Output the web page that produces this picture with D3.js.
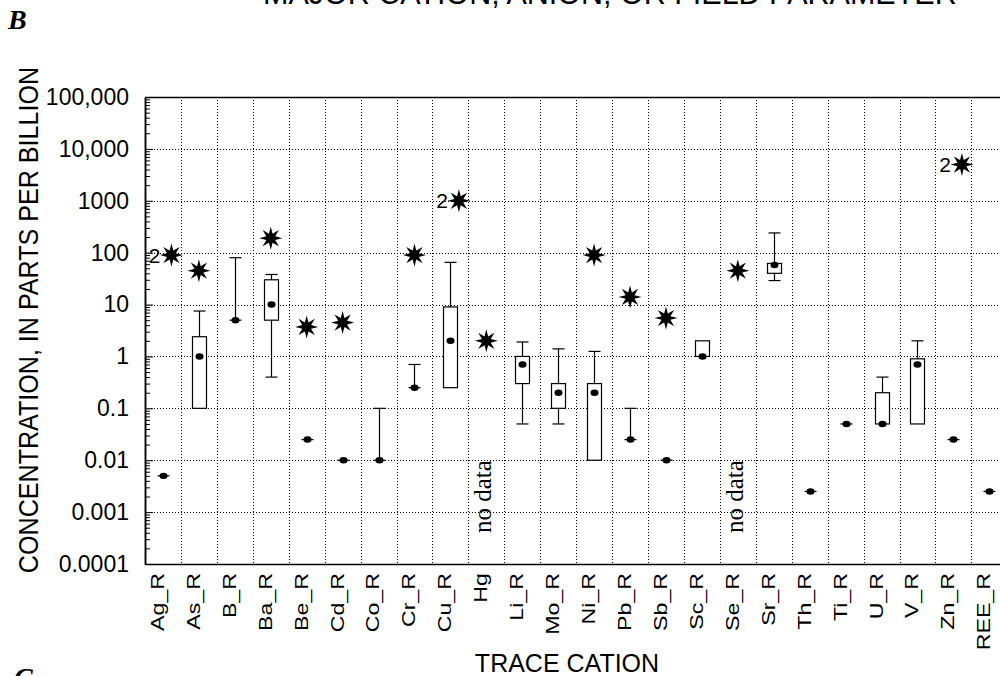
<!DOCTYPE html>
<html>
<head>
<meta charset="utf-8">
<script src="https://cdn.jsdelivr.net/npm/d3@7"></script>
<style>
  body { margin: 0; background: #fff; }
  svg { display: block; }
</style>
</head>
<body>
<svg id="chart" width="1000" height="676"></svg>
<script>
// Trace cation concentrations (parts per billion), one entry per constituent.
const categories = ["Ag_R","As_R","B_R","Ba_R","Be_R","Cd_R","Co_R","Cr_R","Cu_R","Hg","Li_R","Mo_R",
                    "Ni_R","Pb_R","Sb_R","Sc_R","Se_R","Sr_R","Th_R","Ti_R","U_R","V_R","Zn_R","REE_R"];
const medians     = [0.005, 1, 5, 10, 0.025, 0.01, 0.01, 0.25, 2, null, 0.7, 0.2,
                     0.2, 0.025, 0.01, 1, null, 58, 0.0025, 0.05, 0.05, 0.7, 0.025, 0.0025];
const boxLow      = [0.005, 0.1, 5, 5, 0.025, 0.01, 0.01, 0.25, 0.25, null, 0.3, 0.1,
                     0.01, 0.025, 0.01, 1, null, 40, 0.0025, 0.05, 0.05, 0.05, 0.025, 0.0025];
const boxHigh     = [0.005, 2.4, 5, 30, 0.025, 0.01, 0.01, 0.25, 9, null, 1, 0.3,
                     0.3, 0.025, 0.01, 2, null, 62, 0.0025, 0.05, 0.2, 0.9, 0.025, 0.0025];
const whiskerLow  = [null, null, null, 0.4, null, null, null, null, null, null, 0.05, 0.05,
                     null, null, null, null, null, 29, null, null, null, null, null, null];
const whiskerHigh = [null, 7.5, 80, 38, null, null, 0.1, 0.7, 65, null, 1.9, 1.4,
                     1.25, 0.1, null, null, null, 240, null, null, 0.4, 2, null, null];
const outliers    = [90, 45, null, 190, 3.7, 4.5, null, 90, 1000, 2, null, null,
                     90, 14, 5.5, null, 45, null, null, null, null, null, 5000, null];
const outlierCounts = [2, 1, 0, 1, 1, 1, 0, 1, 2, 1, 0, 0,
                       1, 1, 1, 0, 1, 0, 0, 0, 0, 0, 2, 0];
const noDataCategories = ["Hg", "Se_R"];

const yTickValues = [1e5, 1e4, 1e3, 100, 10, 1, 0.1, 0.01, 0.001, 0.0001];
const yTickLabels = ["100,000", "10,000", "1000", "100", "10", "1", "0.1", "0.01", "0.001", "0.0001"];

const SANS = "'Liberation Sans', Arial, Helvetica, sans-serif";
const SERIF = "'Liberation Serif', 'Times New Roman', serif";

const rows = categories.map((c, i) => ({
  cat: c, med: medians[i], lo: boxLow[i], hi: boxHigh[i],
  wlo: whiskerLow[i], whi: whiskerHigh[i], out: outliers[i], n: outlierCounts[i]
}));

const svg = d3.select("#chart");
const plot = { left: 145, right: 1007.3, top: 97, bottom: 564 };

const x = d3.scaleBand().domain(categories).range([plot.left, plot.right]).padding(0);
const y = d3.scaleLog().domain([1e-4, 1e5]).range([plot.bottom, plot.top]);
const cx = c => x(c) + x.bandwidth() / 2;

// Dotted grid
const grid = svg.append("g").attr("stroke", "#000").attr("stroke-width", 1)
  .attr("stroke-dasharray", "1,2");
grid.selectAll("line.h").data(yTickValues.filter(v => v > 1e-4 && v < 1e5)).join("line")
  .attr("x1", plot.left).attr("x2", plot.right)
  .attr("y1", d => Math.round(y(d)) + 0.5).attr("y2", d => Math.round(y(d)) + 0.5);
grid.selectAll("line.v").data(categories.slice(1)).join("line")
  .attr("x1", d => Math.round(x(d)) + 0.5).attr("x2", d => Math.round(x(d)) + 0.5)
  .attr("y1", plot.top).attr("y2", plot.bottom);

// Top frame line
svg.append("line").attr("x1", plot.left).attr("x2", plot.right)
  .attr("y1", plot.top + 0.5).attr("y2", plot.top + 0.5)
  .attr("stroke", "#000").attr("stroke-width", 1.5);

// Left axis: minor log ticks, then major ticks with labels
const minorTicks = [];
for (let e = -4; e < 5; e++) for (let m = 2; m <= 9; m++) minorTicks.push(m * Math.pow(10, e));
svg.append("g").attr("transform", `translate(${plot.left},0)`)
  .call(d3.axisLeft(y).tickValues(minorTicks).tickSize(-5).tickSizeOuter(0).tickFormat(""))
  .call(g => g.select(".domain").attr("stroke-width", 1.5));
const yAxis = svg.append("g").attr("transform", `translate(${plot.left},0)`)
  .call(d3.axisLeft(y).tickValues(yTickValues).tickSize(-8).tickSizeOuter(0).tickPadding(16)
    .tickFormat((d, i) => yTickLabels[i]));
yAxis.select(".domain").attr("stroke-width", 1.5);
yAxis.selectAll("text").attr("font-size", 23).style("font-family", SANS).attr("fill", "#000");

// Bottom axis with vertical category labels
const xAxis = svg.append("g").attr("transform", `translate(0,${plot.bottom})`)
  .call(d3.axisBottom(x).tickSize(0).tickSizeOuter(0));
xAxis.select(".domain").attr("stroke-width", 1.5);
xAxis.selectAll("text")
  .attr("font-size", 19).style("font-family", SANS).attr("fill", "#000")
  .attr("text-anchor", "end").attr("x", 0).attr("y", 0).attr("dy", "0.05em")
  .attr("transform", "translate(0,9) rotate(-90) scale(1.22,1)");

// Whiskers
const wk = svg.append("g").attr("stroke", "#000").attr("stroke-width", 1.2);
const capW = 12;
rows.forEach(r => {
  const px = Math.round(cx(r.cat)) + 0.5;
  if (r.whi != null) {
    wk.append("line").attr("x1", px).attr("x2", px).attr("y1", y(r.hi)).attr("y2", y(r.whi));
    wk.append("line").attr("x1", px - capW / 2).attr("x2", px + capW / 2).attr("y1", y(r.whi)).attr("y2", y(r.whi));
  }
  if (r.wlo != null) {
    wk.append("line").attr("x1", px).attr("x2", px).attr("y1", y(r.lo)).attr("y2", y(r.wlo));
    wk.append("line").attr("x1", px - capW / 2).attr("x2", px + capW / 2).attr("y1", y(r.wlo)).attr("y2", y(r.wlo));
  }
});

// Boxes (degenerate ones collapse to a short bar)
const boxW = 14;
const boxes = svg.append("g");
rows.filter(r => r.lo != null).forEach(r => {
  const px = Math.round(cx(r.cat)) + 0.5;
  if (r.hi > r.lo) {
    boxes.append("rect").attr("x", px - boxW / 2).attr("width", boxW)
      .attr("y", y(r.hi)).attr("height", y(r.lo) - y(r.hi))
      .attr("fill", "#fff").attr("stroke", "#000").attr("stroke-width", 1.2);
  } else {
    boxes.append("line").attr("x1", px - 6).attr("x2", px + 6)
      .attr("y1", y(r.lo)).attr("y2", y(r.lo)).attr("stroke", "#000").attr("stroke-width", 1.2);
  }
});

// Medians
svg.append("g").selectAll("ellipse").data(rows.filter(r => r.med != null)).join("ellipse")
  .attr("cx", d => Math.round(cx(d.cat)) + 0.5).attr("cy", d => y(d.med))
  .attr("rx", 4).attr("ry", 3.2).attr("fill", "#000");

// Outlier stars (8-pointed)
function starPath(rOuter, rInner, points) {
  const pts = d3.range(points * 2).map(i => {
    const a = i * Math.PI / points - Math.PI / 2;
    const r = i % 2 ? rInner : rOuter;
    return [r * Math.cos(a), r * Math.sin(a)];
  });
  return d3.line()(pts) + "Z";
}
const star = starPath(11.5, 4.8, 8);
const outRows = rows.filter(r => r.out != null);
const starX = r => cx(r.cat) + (r.n > 1 ? 8.5 : 0);
svg.append("g").selectAll("path").data(outRows).join("path")
  .attr("d", star).attr("fill", "#000")
  .attr("transform", d => `translate(${starX(d)},${y(d.out)})`);
svg.append("g").selectAll("text").data(outRows.filter(r => r.n > 1)).join("text")
  .attr("x", d => starX(d) - 11).attr("y", d => y(d.out)).attr("dy", "0.36em")
  .attr("text-anchor", "end").attr("font-size", 21).style("font-family", SANS)
  .text(d => d.n);

// "no data" markers
svg.append("g").selectAll("text").data(noDataCategories).join("text")
  .attr("transform", d => `translate(${cx(d) + 5},533) rotate(-90)`)
  .style("font-family", SERIF).attr("font-size", 25)
  .text("no data");

// Axis titles
svg.append("text").attr("transform", "translate(38,320) rotate(-90) scale(0.93,1)")
  .attr("text-anchor", "middle").attr("font-size", 27).style("font-family", SANS)
  .text("CONCENTRATION, IN PARTS PER BILLION");
svg.append("text").attr("x", 567).attr("y", 672).attr("text-anchor", "middle")
  .attr("font-size", 25).style("font-family", SANS).text("TRACE CATION");

// Heading strip and panel letters
svg.append("text").attr("x", 263).attr("y", 4).attr("font-size", 30.5).style("font-family", SANS)
  .text("MAJOR CATION, ANION, OR FIELD PARAMETER");
svg.append("text").attr("x", 8).attr("y", 29).attr("font-size", 28)
  .style("font-family", SERIF)
  .attr("font-weight", "bold").attr("font-style", "italic").text("B");
svg.append("text").attr("x", 14).attr("y", 687).attr("font-size", 28)
  .style("font-family", SERIF)
  .attr("font-weight", "bold").attr("font-style", "italic").text("C");
</script>
</body>
</html>
